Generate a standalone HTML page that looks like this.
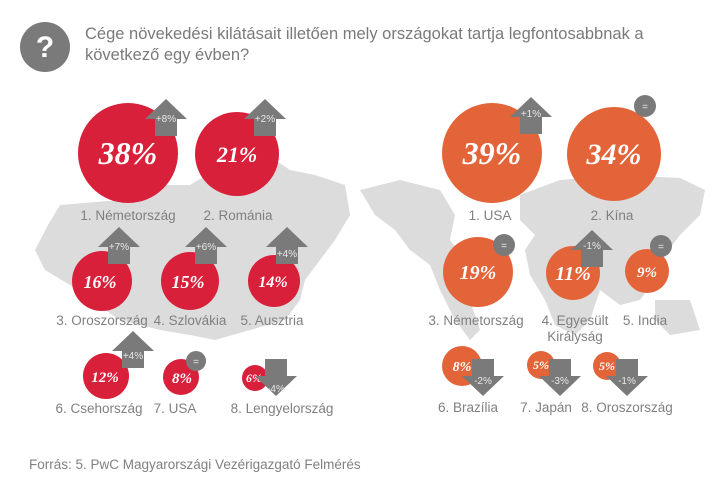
<!DOCTYPE html>
<html><head><meta charset="utf-8"><style>
body{margin:0;background:#fff}
svg{display:block;font-family:"Liberation Sans",sans-serif}
.l{font-size:13.5px;fill:#808080;text-anchor:middle}
.p{font-family:"Liberation Serif",serif;font-style:italic;font-weight:bold;fill:#fff;text-anchor:middle}
.a{fill:#7a7a7a}
.at{font-size:10px;fill:#e8e8e8;text-anchor:middle}
</style></head><body>
<svg width="713" height="488" viewBox="0 0 713 488">
<defs>
<g id="up"><polygon class="a" points="0,-20 21,0 11,0 11,17 -11,17 -11,0 -21,0"/></g>
<g id="dn"><polygon class="a" points="0,20 21,0 11,0 11,-17 -11,-17 -11,0 -21,0"/></g>
</defs>
<!-- maps -->
<path fill="#dcdcdc" d="M60,205 L120,200 L150,185 L190,185 L215,170 L250,165 L275,160 L290,170 L315,175 L345,185 L350,215 L335,240 L320,260 L305,280 L300,300 L285,320 L250,330 L215,340 L190,335 L160,330 L120,320 L90,300 L70,285 L45,270 L35,250 L48,225 Z"/>
<path fill="#dcdcdc" d="M360,190 L400,180 L440,190 L455,215 L450,240 L465,260 L470,300 L480,330 L470,340 L455,320 L440,290 L430,265 L410,250 L395,230 L375,215 Z"/>
<path fill="#dcdcdc" d="M520,195 L560,180 L620,175 L680,178 L705,190 L700,215 L680,235 L665,255 L655,280 L640,300 L620,305 L600,290 L590,320 L575,335 L555,325 L545,300 L530,275 L525,250 L535,235 L520,220 Z"/>
<path fill="#dcdcdc" d="M655,300 L690,300 L700,330 L670,335 L655,320 Z"/>
<!-- header -->
<circle cx="45" cy="47" r="25" fill="#7a7a7a"/>
<text x="45" y="57" fill="#fff" font-size="30" font-weight="bold" text-anchor="middle">?</text>
<text x="85" y="39" font-size="16.5" fill="#7a7a7a">Cége növekedési kilátásait illetően mely országokat tartja legfontosabbnak a</text>
<text x="85" y="60" font-size="16.5" fill="#7a7a7a">következő egy évben?</text>
<!-- left -->
<g fill="#d9203a">
<circle cx="128" cy="153" r="50"/><circle cx="237" cy="154" r="42"/>
<circle cx="102" cy="281" r="30"/><circle cx="190" cy="281" r="29"/><circle cx="274" cy="281" r="26"/>
<circle cx="106" cy="376" r="23"/><circle cx="181" cy="377" r="18"/><circle cx="255" cy="378" r="13"/>
</g>
<text class="p" x="128" y="164" font-size="32">38%</text>
<text class="p" x="237" y="162" font-size="22">21%</text>
<text class="p" x="100" y="288" font-size="18">16%</text>
<text class="p" x="188" y="288" font-size="18">15%</text>
<text class="p" x="273" y="287" font-size="16">14%</text>
<text class="p" x="105" y="382" font-size="15">12%</text>
<text class="p" x="182" y="383" font-size="15">8%</text>
<text class="p" x="254" y="382" font-size="12">6%</text>
<use href="#up" x="166" y="119"/><text class="at" x="166" y="122">+8%</text>
<use href="#up" x="265" y="119"/><text class="at" x="265" y="122">+2%</text>
<use href="#up" x="119" y="247"/><text class="at" x="119" y="250">+7%</text>
<use href="#up" x="206" y="247"/><text class="at" x="206" y="250">+6%</text>
<use href="#up" x="287" y="247"/><text class="at" x="287" y="257">+4%</text>
<use href="#up" x="133" y="351"/><text class="at" x="133" y="359">+4%</text>
<circle cx="196" cy="361" r="10" fill="#7a7a7a"/><text class="at" x="196" y="365">=</text>
<use href="#dn" x="276" y="376"/><text class="at" x="276" y="392">-4%</text>
<text class="l" x="128" y="220">1. Németország</text>
<text class="l" x="238" y="220">2. Románia</text>
<text class="l" x="102" y="325">3. Oroszország</text>
<text class="l" x="190" y="325">4. Szlovákia</text>
<text class="l" x="272" y="325">5. Ausztria</text>
<text class="l" x="99" y="413">6. Csehország</text>
<text class="l" x="175" y="413">7. USA</text>
<text class="l" x="282" y="413">8. Lengyelország</text>
<!-- right -->
<g fill="#e4643a">
<circle cx="492" cy="153" r="50"/><circle cx="614" cy="154" r="47"/>
<circle cx="478" cy="272" r="35"/><circle cx="573" cy="273" r="27"/><circle cx="647" cy="271" r="22"/>
<circle cx="462" cy="366" r="20"/><circle cx="541" cy="365" r="14"/><circle cx="607" cy="366" r="14"/>
</g>
<text class="p" x="492" y="164" font-size="32">39%</text>
<text class="p" x="614" y="164" font-size="30">34%</text>
<text class="p" x="478" y="279" font-size="20">19%</text>
<text class="p" x="573" y="280" font-size="20">11%</text>
<text class="p" x="647" y="277" font-size="15">9%</text>
<text class="p" x="462" y="371" font-size="14">8%</text>
<text class="p" x="541" y="369" font-size="12">5%</text>
<text class="p" x="607" y="370" font-size="12">5%</text>
<use href="#up" x="531" y="117"/><text class="at" x="531" y="117">+1%</text>
<circle cx="645" cy="106" r="11" fill="#7a7a7a"/><text class="at" x="645" y="110">=</text>
<circle cx="504" cy="245" r="11" fill="#7a7a7a"/><text class="at" x="504" y="249">=</text>
<use href="#up" x="592" y="250"/><text class="at" x="592" y="249">-1%</text>
<circle cx="661" cy="246" r="11" fill="#7a7a7a"/><text class="at" x="661" y="250">=</text>
<use href="#dn" x="483" y="376"/><text class="at" x="483" y="384">-2%</text>
<use href="#dn" x="560" y="376"/><text class="at" x="560" y="384">-3%</text>
<use href="#dn" x="627" y="376"/><text class="at" x="627" y="384">-1%</text>
<text class="l" x="476" y="325">3. Németország</text>
<text class="l" x="575" y="325">4. Egyesült</text>
<text class="l" x="575" y="341">Királyság</text>
<text class="l" x="645" y="325">5. India</text>
<text class="l" x="490" y="220">1. USA</text>
<text class="l" x="612" y="220">2. Kína</text>
<text class="l" x="468" y="412">6. Brazília</text>
<text class="l" x="546" y="412">7. Japán</text>
<text class="l" x="627" y="412">8. Oroszország</text>
<text x="29" y="469" font-size="13.5" fill="#808080">Forrás: 5. PwC Magyarországi Vezérigazgató Felmérés</text>
</svg>
</body></html>
